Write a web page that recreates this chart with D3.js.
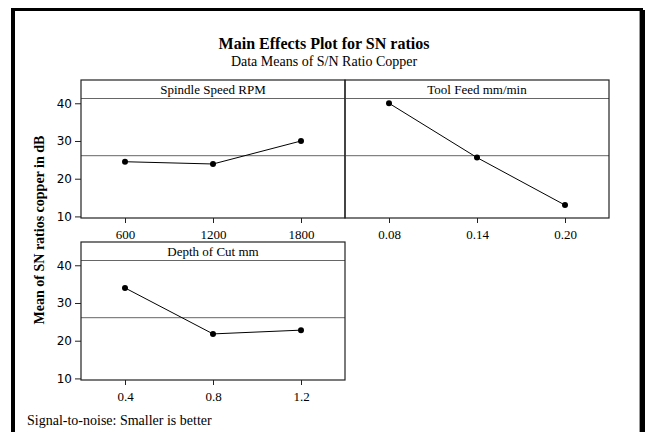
<!DOCTYPE html>
<html>
<head>
<meta charset="utf-8">
<script src="https://cdn.jsdelivr.net/npm/d3@7"></script>
<style>
  body { margin: 0; background: #fff; }
  svg { display: block; }
</style>
</head>
<body>
<div id="chart"></div>
<script>
// Data
const factorNames = ["Spindle Speed RPM", "Tool Feed mm/min", "Depth of Cut mm"];
const spindleLevels = ["600", "1200", "1800"];
const spindleMeans = [24.5, 23.9, 30.0];
const feedLevels = ["0.08", "0.14", "0.20"];
const feedMeans = [40.0, 25.6, 13.0];
const depthLevels = ["0.4", "0.8", "1.2"];
const depthMeans = [34.0, 21.8, 22.8];
const grandMean = 26.1;
const yTicks = [10, 20, 30, 40];

const w = 648, h = 432;
const serif = "'Liberation Serif', 'Times New Roman', serif";
const sans = "'DejaVu Sans', Verdana, sans-serif";

const svg = d3.select("#chart").append("svg")
  .attr("width", w)
  .attr("height", h);

svg.append("rect").attr("width", w).attr("height", h).attr("fill", "#fff");

// outer frame (thick left/top/right edges)
svg.append("line").attr("x1", 13).attr("x2", 13).attr("y1", 8).attr("y2", h)
  .attr("stroke", "#000").attr("stroke-width", 4);
svg.append("line").attr("x1", 11).attr("x2", 643).attr("y1", 9.5).attr("y2", 9.5)
  .attr("stroke", "#000").attr("stroke-width", 3);
svg.append("line").attr("x1", 642.5).attr("x2", 642.5).attr("y1", 10).attr("y2", h)
  .attr("stroke", "#000").attr("stroke-width", 5);
svg.append("line").attr("x1", 639.5).attr("x2", 639.5).attr("y1", 11).attr("y2", h)
  .attr("stroke", "#999").attr("stroke-width", 1);

// titles
svg.append("text")
  .attr("x", 324).attr("y", 49)
  .attr("text-anchor", "middle")
  .style("font-family", serif).style("font-size", "16px").style("font-weight", "bold")
  .text("Main Effects Plot for SN ratios");
svg.append("text")
  .attr("x", 324).attr("y", 66)
  .attr("text-anchor", "middle")
  .style("font-family", serif).style("font-size", "14px")
  .text("Data Means of S/N Ratio Copper");

// panels
const panelW = 264, stripH = 18, plotH = 120;
const panels = [
  { name: factorNames[0], levels: spindleLevels, means: spindleMeans, x0: 81, y0: 80, yAxis: true },
  { name: factorNames[1], levels: feedLevels, means: feedMeans, x0: 345, y0: 80, yAxis: false },
  { name: factorNames[2], levels: depthLevels, means: depthMeans, x0: 81, y0: 242, yAxis: true }
];

panels.forEach(function(p) {
  const top = p.y0 + stripH;
  const bottom = top + plotH;

  const x = d3.scalePoint()
    .domain(p.levels)
    .range([p.x0, p.x0 + panelW])
    .padding(0.5);
  const y = d3.scaleLinear()
    .domain([9.58, 41.4])
    .range([bottom, top]);

  const g = svg.append("g");

  // strip header line
  g.append("line")
    .attr("x1", p.x0).attr("x2", p.x0 + panelW)
    .attr("y1", top + 0.5).attr("y2", top + 0.5)
    .attr("stroke", "#666").attr("stroke-width", 1);

  g.append("text")
    .attr("x", p.x0 + panelW / 2).attr("y", p.y0 + 13.5)
    .attr("text-anchor", "middle")
    .style("font-family", serif).style("font-size", "13px")
    .text(p.name);

  // grand mean reference line
  g.append("line")
    .attr("x1", p.x0).attr("x2", p.x0 + panelW)
    .attr("y1", y(grandMean)).attr("y2", y(grandMean))
    .attr("stroke", "#666").attr("stroke-width", 1);

  // panel border
  g.append("rect")
    .attr("x", p.x0).attr("y", p.y0)
    .attr("width", panelW).attr("height", stripH + plotH)
    .attr("fill", "none").attr("stroke", "#222").attr("stroke-width", 1.2);

  // mean line and points
  const pts = p.levels.map((l, i) => [l, p.means[i]]);
  g.append("path")
    .datum(pts)
    .attr("fill", "none")
    .attr("stroke", "#000")
    .attr("stroke-width", 1)
    .attr("d", d3.line().x(d => x(d[0])).y(d => y(d[1])));
  g.selectAll("circle")
    .data(pts)
    .enter()
    .append("circle")
    .attr("cx", d => x(d[0]))
    .attr("cy", d => y(d[1]))
    .attr("r", 3)
    .attr("fill", "#000");

  // x axis
  const xa = g.append("g")
    .attr("transform", "translate(0," + bottom + ")")
    .call(d3.axisBottom(x).tickSize(5).tickPadding(7));
  xa.select(".domain").remove();
  xa.selectAll("line").attr("stroke", "#222");
  xa.selectAll("text")
    .style("font-family", serif).style("font-size", "13px").attr("fill", "#000");

  // y axis on left-hand panels only
  if (p.yAxis) {
    const ya = g.append("g")
      .attr("transform", "translate(" + p.x0 + ",0)")
      .call(d3.axisLeft(y).tickValues(yTicks).tickSize(6).tickPadding(3));
    ya.select(".domain").remove();
    ya.selectAll("line").attr("stroke", "#222");
    ya.selectAll("text")
      .style("font-family", sans).style("font-size", "12px").attr("fill", "#000");
  }
});

// y axis title
svg.append("text")
  .attr("transform", "translate(44,230) rotate(-90)")
  .attr("text-anchor", "middle")
  .style("font-family", serif).style("font-size", "14px").style("font-weight", "bold")
  .text("Mean of SN ratios copper in dB");

// footer
svg.append("text")
  .attr("x", 27).attr("y", 425)
  .style("font-family", serif).style("font-size", "14px")
  .text("Signal-to-noise: Smaller is better");
</script>
</body>
</html>
